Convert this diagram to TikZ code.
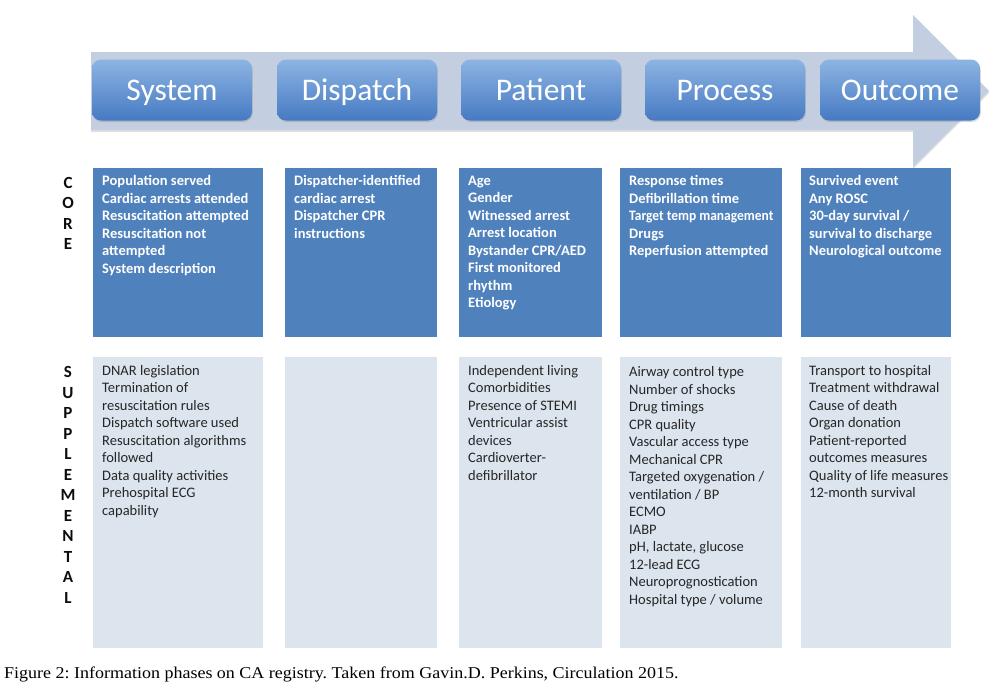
\documentclass[tikz,border=0pt]{standalone}
\usepackage{fontspec}
\usepackage{graphicx}
\setmainfont{Carlito}
\newfontfamily\capfont[FakeStretch=1.09]{Liberation Serif}
\usetikzlibrary{shadows,calc}
\frenchspacing
\definecolor{bandc}{RGB}{196,206,225}
\definecolor{hdtop}{RGB}{141,180,227}
\definecolor{hdbot}{RGB}{70,122,195}
\definecolor{coreblue}{RGB}{79,129,189}
\definecolor{supbg}{RGB}{220,228,238}
\definecolor{suptext}{RGB}{38,38,38}
\tikzset{
  hdr/.style={rounded corners=9pt, top color=hdtop, bottom color=hdbot, draw=none,
    text=white, font=\fontsize{31.5}{34}\selectfont, inner sep=0pt,
    minimum width=160pt, minimum height=61pt, text height=20pt, text depth=0pt,
    drop shadow={opacity=0.3, shadow xshift=0.8pt, shadow yshift=-1.5pt}},
  corebox/.style={fill=coreblue, draw=none, anchor=north west, inner sep=0pt, minimum height=169pt},
  supbox/.style={fill=supbg, draw=none, anchor=north west, inner sep=0pt, minimum height=291pt},
  coretext/.style={text=white, font=\bfseries\fontsize{14.5}{17.5}\selectfont, align=left,
    anchor=north west, inner sep=0pt, execute at begin node={\rule{0pt}{11pt}}},
  suptxt/.style={text=suptext, font=\fontsize{14.5}{17.5}\selectfont, align=left,
    anchor=north west, inner sep=0pt, execute at begin node={\rule{0pt}{11pt}}},
  sidelbl/.style={text=black!95, font=\bfseries\fontsize{17}{20.5}\selectfont, align=center,
    anchor=north, inner sep=0pt}
}
\begin{document}
\begin{tikzpicture}[x=1pt,y=-1pt]
\useasboundingbox (0,0) rectangle (1002,696);
\fill[white] (0,0) rectangle (1002,696);
% big arrow band
\fill[bandc, drop shadow={opacity=0.25, shadow xshift=0pt, shadow yshift=-2pt}]
  (91,52) -- (913,52) -- (913,15) -- (989,91) -- (913,167) -- (913,130) -- (91,130) -- cycle;
% headers
\node[hdr] (h1) at (172,90) {System};
\node[hdr] (h2) at (357,90) {Dispatch};
\node[hdr] (h3) at (541,90) {Patient};
\node[hdr] (h4) at (725,90) {Process};
\node[hdr] (h5) at (900,90) {Outcome};
% core boxes
\node[corebox, minimum width=170pt] (c1) at (93,168) {};
\node[corebox, minimum width=152pt] (c2) at (285,168) {};
\node[corebox, minimum width=143pt] (c3) at (459,168) {};
\node[corebox, minimum width=162pt] (c4) at (620,168) {};
\node[corebox, minimum width=150pt] (c5) at (801,168) {};
% supplemental boxes
\node[supbox, minimum width=170pt] (s1) at (93,357) {};
\node[supbox, minimum width=152pt] (s2) at (285,357) {};
\node[supbox, minimum width=143pt] (s3) at (459,357) {};
\node[supbox, minimum width=162pt] (s4) at (620,357) {};
\node[supbox, minimum width=150pt] (s5) at (801,357) {};
% core texts
\node[coretext] (ct1) at ($(c1.north west)+(9,7.5)$) {Population served\\Cardiac arrests attended\\Resuscitation attempted\\Resuscitation not\\attempted\\System description};
\node[coretext] (ct2) at ($(c2.north west)+(9,7.5)$) {Dispatcher-identified\\cardiac arrest\\Dispatcher CPR\\instructions};
\node[coretext] (ct3) at ($(c3.north west)+(9,7.5)$) {Age\\Gender\\Witnessed arrest\\Arrest location\\Bystander CPR/AED\\First monitored\\rhythm\\Etiology};
\node[coretext] (ct4) at ($(c4.north west)+(9,7.5)$) {Response times\\Defibrillation time\\\scalebox{0.93}[1]{Target temp management}\\Drugs\\Reperfusion attempted};
\node[coretext] (ct5) at ($(c5.north west)+(8,7.5)$) {Survived event\\Any ROSC\\30-day survival /\\survival to discharge\\Neurological outcome};
% supplemental texts
\node[suptxt] (st1) at ($(s1.north west)+(9,8)$) {DNAR legislation\\Termination of\\resuscitation rules\\Dispatch software used\\Resuscitation algorithms\\followed\\Data quality activities\\Prehospital ECG\\capability};
\node[suptxt] (st3) at ($(s3.north west)+(9,8)$) {Independent living\\Comorbidities\\Presence of STEMI\\Ventricular assist\\devices\\Cardioverter-\\defibrillator};
\node[suptxt] (st4) at ($(s4.north west)+(9,9.5)$) {Airway control type\\Number of shocks\\Drug timings\\CPR quality\\Vascular access type\\Mechanical CPR\\Targeted oxygenation /\\ventilation / BP\\ECMO\\IABP\\pH, lactate, glucose\\12-lead ECG\\Neuroprognostication\\Hospital type / volume};
\node[suptxt] (st5) at ($(s5.north west)+(8,8)$) {Transport to hospital\\Treatment withdrawal\\Cause of death\\Organ donation\\Patient-reported\\outcomes measures\\Quality of life measures\\12-month survival};
% side labels
\node[sidelbl] (core) at (68,177) {C\\O\\R\\E};
\node[sidelbl] (supp) at (68,366.5) {S\\U\\P\\P\\L\\E\\M\\E\\N\\T\\A\\L};
% caption
\node[font=\capfont\fontsize{16.5}{19}\selectfont, anchor=base west, inner sep=0pt] (cap) at (4,678)
  {Figure 2: Information phases on CA registry. Taken from Gavin.D. Perkins, Circulation 2015.};
\end{tikzpicture}
\end{document}
